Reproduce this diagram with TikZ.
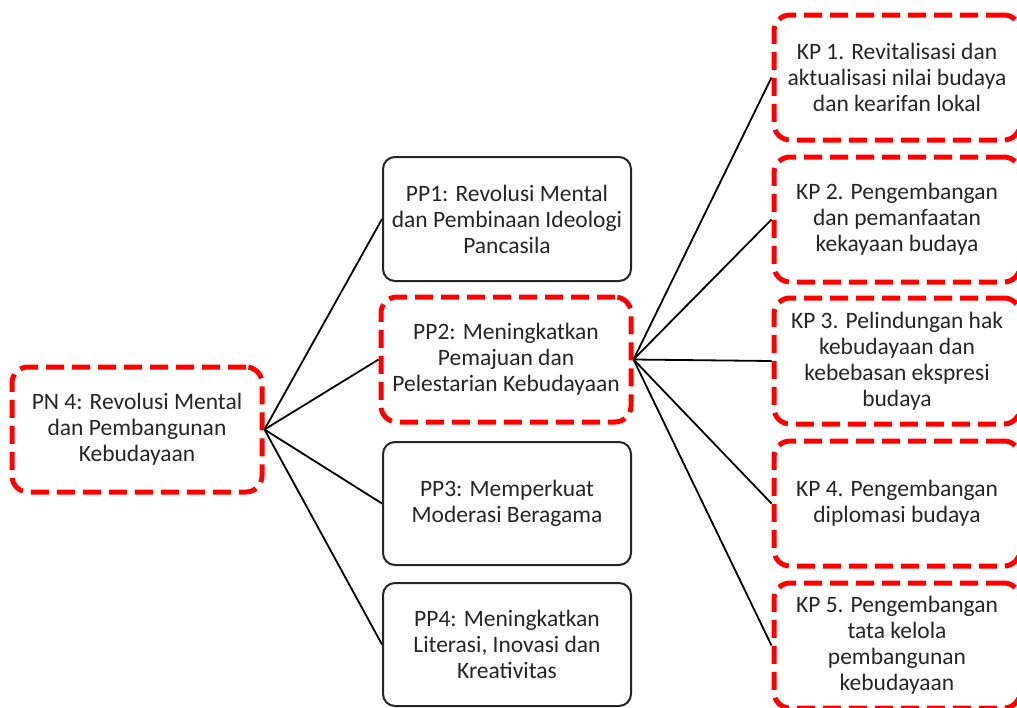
\documentclass[tikz,border=0pt]{standalone}
\usepackage{fontspec}
\setmainfont{Carlito}
\definecolor{txt}{HTML}{262626}
\definecolor{redd}{HTML}{FF0000}
\begin{document}
\begin{tikzpicture}[x=1pt,y=-1pt,
  box/.style={rounded corners=12pt, draw=black!85, line width=2pt, fill=white,
    text=txt, align=center, inner sep=0pt, font=\fontsize{23.5}{26}\selectfont},
  redbox/.style={box, draw=redd, line width=5pt, rounded corners=16pt,
    dash pattern=on 18pt off 8pt},
  conn/.style={draw=black, line width=1.8pt}]
\useasboundingbox (0,0) rectangle (1017,707);
% level 0
\node[redbox, minimum width=250pt, minimum height=125pt] (pn) at (137,429.5)
  {PN 4: Revolusi Mental\\dan Pembangunan\\Kebudayaan};
% level 1
\node[box, minimum width=248pt, minimum height=124pt] (pp1) at (507,219)
  {PP1: Revolusi Mental\\dan Pembinaan Ideologi\\Pancasila};
\node[redbox, minimum width=250pt, minimum height=125pt] (pp2) at (506,359.5)
  {PP2: Meningkatkan\\Pemajuan dan\\Pelestarian Kebudayaan};
\node[box, minimum width=248pt, minimum height=123pt] (pp3) at (507,503.5)
  {PP3: Memperkuat\\Moderasi Beragama};
\node[box, minimum width=248pt, minimum height=123pt] (pp4) at (507,644.5)
  {PP4: Meningkatkan\\Literasi, Inovasi dan\\Kreativitas};
% level 2
\node[redbox, minimum width=246pt, minimum height=125pt] (kp1) at (897,77.5)
  {KP 1. Revitalisasi dan\\aktualisasi nilai budaya\\dan kearifan lokal};
\node[redbox, minimum width=246pt, minimum height=125pt] (kp2) at (897,219.5)
  {KP 2. Pengembangan\\dan pemanfaatan\\kekayaan budaya};
\node[redbox, minimum width=246pt, minimum height=126pt] (kp3) at (897,361)
  {KP 3. Pelindungan hak\\kebudayaan dan\\kebebasan ekspresi\\budaya};
\node[redbox, minimum width=246pt, minimum height=125pt] (kp4) at (897,503.5)
  {KP 4. Pengembangan\\diplomasi budaya};
\node[redbox, minimum width=246pt, minimum height=125pt] (kp5) at (897,645.5)
  {KP 5. Pengembangan\\tata kelola\\pembangunan\\kebudayaan};
% connectors
\foreach \t in {pp1,pp2,pp3,pp4} \draw[conn] (pn.east) -- (\t.west);
\foreach \t in {kp1,kp2,kp3,kp4,kp5} \draw[conn] (pp2.east) -- (\t.west);
\end{tikzpicture}
\end{document}
